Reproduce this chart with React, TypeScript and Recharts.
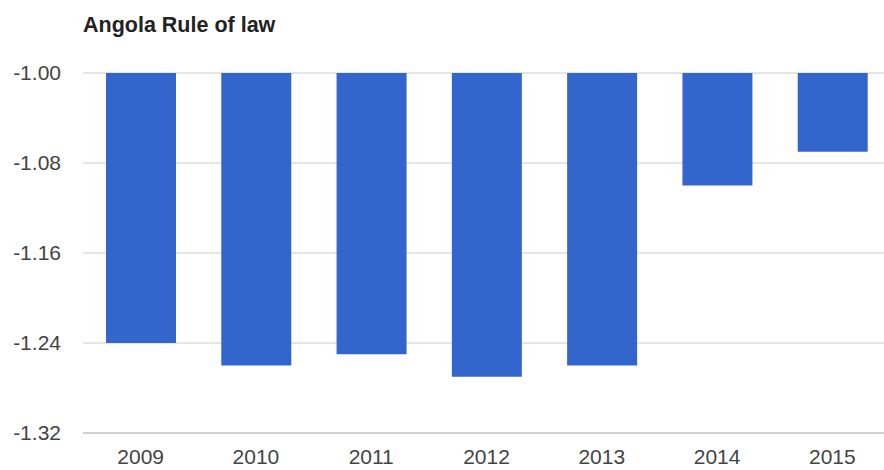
import { BarChart, Bar, XAxis, YAxis, CartesianGrid } from 'recharts';

const years = ['2009', '2010', '2011', '2012', '2013', '2014', '2015'];
const ruleOfLaw = [-1.24, -1.26, -1.25, -1.27, -1.26, -1.1, -1.07];
const yTicks = [-1.32, -1.24, -1.16, -1.08, -1.0];

const data = years.map((year, i) => ({ year, value: ruleOfLaw[i] }));

const font = '"Liberation Sans", Arial, sans-serif';

export default function App() {
	return (
		<div
			style={{
				position: 'absolute',
				left: 0,
				top: 0,
				width: 884,
				height: 470,
				overflow: 'hidden',
				background: '#fff',
				fontFamily: font,
			}}
		>
			<div
				style={{
					position: 'absolute',
					left: 83,
					top: 15,
					fontSize: 21.5,
					lineHeight: '20px',
					fontWeight: 'bold',
					color: '#222',
				}}
			>
				Angola Rule of law
			</div>
			<BarChart
				width={898}
				height={470}
				data={data}
				margin={{ top: 73, right: 8, bottom: 0, left: 0 }}
			>
				<CartesianGrid vertical={false} stroke='#cccccc' />
				<XAxis
					dataKey='year'
					height={37}
					axisLine={{ stroke: '#bbbbbb' }}
					tickLine={false}
					tickSize={0}
					tickMargin={16}
					tick={{ fill: '#444', fontSize: 21, fontFamily: font }}
				/>
				<YAxis
					width={83}
					domain={[-1.32, -1.0]}
					ticks={yTicks}
					tickFormatter={(v) => v.toFixed(2)}
					axisLine={false}
					tickLine={false}
					tickSize={0}
					tickMargin={22}
					tick={{ fill: '#444', fontSize: 21, fontFamily: font }}
				/>
				<Bar dataKey='value' fill='#3366cc' barSize={70} isAnimationActive={false} />
			</BarChart>
		</div>
	);
}
